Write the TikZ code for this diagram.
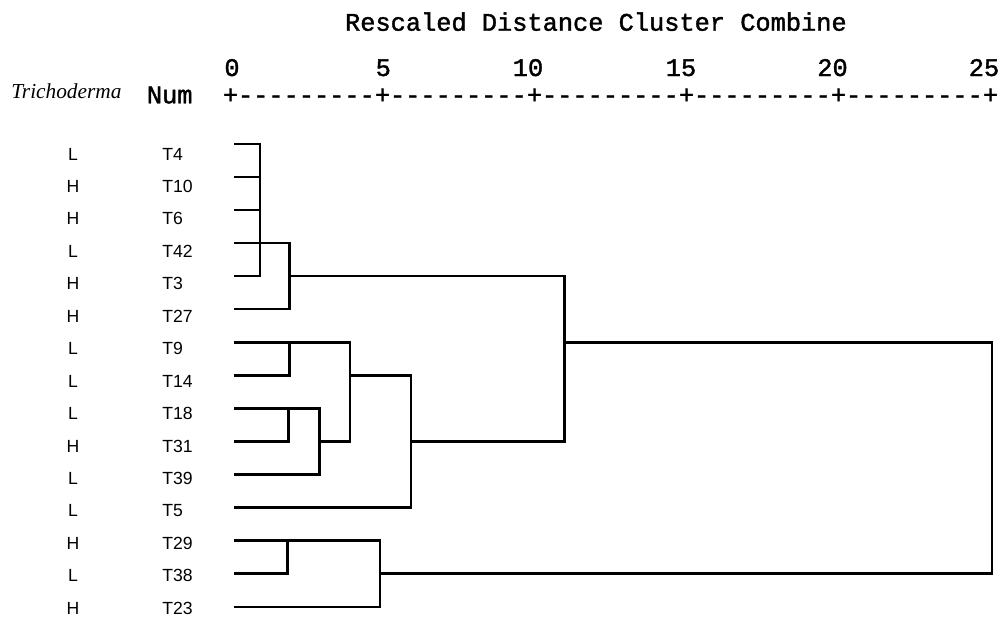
\documentclass[tikz,border=0pt]{standalone}
\usepackage{fontspec}
\setmainfont{Liberation Sans}
\newfontfamily\monof[FakeBold=1.5]{Liberation Mono}
\newfontfamily\serifit{Liberation Serif}
\begin{document}
\begin{tikzpicture}[x=0.75pt,y=-0.75pt,
  den/.style={line width=1.8pt,line cap=rect,black},
  lab/.style={inner sep=0pt,anchor=base,font=\fontsize{13.2pt}{15pt}\selectfont},
  tlab/.style={inner sep=0pt,anchor=base west,font=\fontsize{13.2pt}{15pt}\selectfont},
  mono/.style={inner sep=0pt,anchor=base,font=\fontsize{19pt}{21pt}\monof}]
\useasboundingbox (0,0) rectangle (1002,617);
% header
\node[mono] (title) at (595.9,30.7) {Rescaled Distance Cluster Combine};
\node[inner sep=0pt,anchor=base west,font=\fontsize{16pt}{18pt}\serifit\itshape] (trich) at (11,98.5) {Trichoderma};
\node[mono] (num) at (169.7,103.3) {Num};
\node[mono] (ruler) at (610.5,103.3) {+---------+---------+---------+---------+---------+};
\node[mono] (n0) at (232,76) {0};
\node[mono] (n5) at (383.3,76) {5};
\node[mono] (n10) at (528,76) {10};
\node[mono] (n15) at (681,76) {15};
\node[mono] (n20) at (832.5,76) {20};
\node[mono] (n25) at (984,76) {25};
% labels
\foreach \g/\t [count=\i from 0] in {L/T4,H/T10,H/T6,L/T42,H/T3,H/T27,L/T9,L/T14,L/T18,H/T31,L/T39,L/T5,H/T29,L/T38,H/T23}{
  \node[lab] (g\i) at (73,160+32.45*\i) {\g};
  \node[tlab] (t\i) at (162,160+32.45*\i) {\t};
  \coordinate (l\i) at (235,144+33.05*\i);
}
% join x positions
\coordinate (xA) at (260,0);
\coordinate (xB) at (289.3,0);
\coordinate (xC) at (288.3,0);
\coordinate (xD) at (319.3,0);
\coordinate (xE) at (350,0);
\coordinate (xF) at (411,0);
\coordinate (xG) at (287.3,0);
\coordinate (xH) at (380,0);
\coordinate (xK) at (564.3,0);
\coordinate (xZ) at (991.7,0);
% cluster T4..T3
\draw[den] (l0) -- (l0-|xA);
\draw[den] (l1) -- (l1-|xA);
\draw[den] (l2) -- (l2-|xA);
\draw[den] (l4) -- (l4-|xA);
\draw[den] (l0-|xA) -- (l4-|xA);
\draw[den] (l3) -- (l3-|xB);
\draw[den] (l5) -- (l5-|xB);
\draw[den] (l3-|xB) -- (l5-|xB);
\draw[den] (l4-|xB) -- (l4-|xK);
% cluster T9,T14
\draw[den] (l6) -- (l6-|xE);
\draw[den] (l7) -- (l7-|xB);
\draw[den] (l6-|xB) -- (l7-|xB);
% cluster T18,T31,T39
\draw[den] (l8) -- (l8-|xD);
\draw[den] (l9) -- (l9-|xC);
\draw[den] (l8-|xC) -- (l9-|xC);
\draw[den] (l10) -- (l10-|xD);
\draw[den] (l8-|xD) -- (l10-|xD);
\draw[den] (l9-|xD) -- (l9-|xE);
\draw[den] (l6-|xE) -- (l9-|xE);
\draw[den] (l7-|xE) -- (l7-|xF);
% T5
\draw[den] (l11) -- (l11-|xF);
\draw[den] (l7-|xF) -- (l11-|xF);
\draw[den] (l9-|xF) -- (l9-|xK);
\draw[den] (l4-|xK) -- (l9-|xK);
\draw[den] (l6-|xK) -- (l6-|xZ);
% cluster T29,T38,T23
\draw[den] (l12) -- (l12-|xH);
\draw[den] (l13) -- (l13-|xG);
\draw[den] (l12-|xG) -- (l13-|xG);
\draw[den] (l14) -- (l14-|xH);
\draw[den] (l12-|xH) -- (l14-|xH);
\draw[den] (l13-|xH) -- (l13-|xZ);
\draw[den] (l6-|xZ) -- (l13-|xZ);
\end{tikzpicture}
\end{document}
